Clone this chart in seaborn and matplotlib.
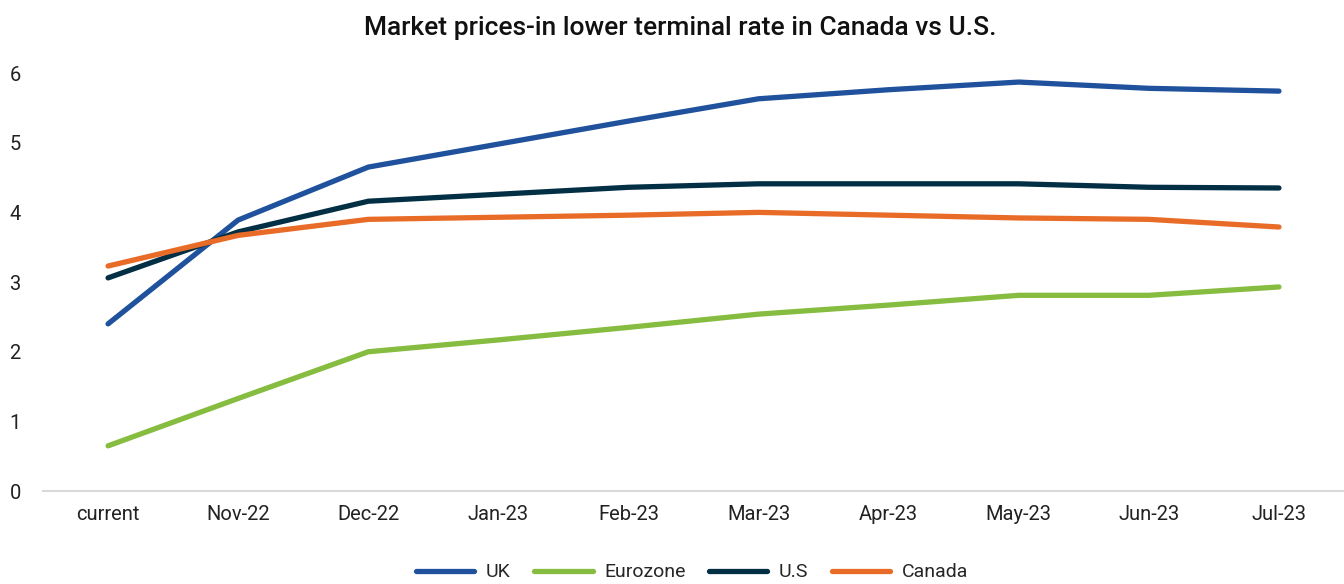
import matplotlib
matplotlib.use("Agg")

import pandas as pd
import matplotlib.pyplot as plt
import seaborn as sns

# datos
meses = ["current", "Nov-22", "Dec-22", "Jan-23", "Feb-23", "Mar-23",
         "Apr-23", "May-23", "Jun-23", "Jul-23"]
uk = [2.40, 3.89, 4.65, 4.98, 5.31, 5.63, 5.76, 5.87, 5.78, 5.74]
eurozone = [0.65, 1.33, 2.00, 2.17, 2.35, 2.54, 2.67, 2.81, 2.81, 2.93]
us = [3.06, 3.72, 4.16, 4.26, 4.36, 4.41, 4.41, 4.41, 4.36, 4.35]
canada = [3.23, 3.67, 3.90, 3.93, 3.96, 4.00, 3.96, 3.92, 3.90, 3.79]

series = {"UK": uk, "Eurozone": eurozone, "U.S": us, "Canada": canada}
colores = {"UK": "#1f519c", "Eurozone": "#86bc3f", "U.S": "#032f44", "Canada": "#e86c27"}

filas = []
for nombre, valores in series.items():
    for i, v in enumerate(valores):
        filas.append({"pos": i, "mes": meses[i], "serie": nombre, "valor": v})
df = pd.DataFrame(filas)

sns.set_theme(style="white")
plt.rcParams["font.family"] = ["Roboto", "DejaVu Sans"]

fig = plt.figure(figsize=(13.44, 5.84), dpi=100)
ax = fig.add_axes([0.032, 0.159, 0.968, 0.716])

sns.lineplot(data=df, x="pos", y="valor", hue="serie", palette=colores,
             linewidth=3.8, ax=ax, legend=False, solid_capstyle="round")

ax.set_xlim(-0.5, len(meses) - 0.5)
ax.set_ylim(0, 6)
ax.set_xticks(range(len(meses)))
ax.set_xticklabels(meses)
ax.set_yticks(range(0, 7))
ax.tick_params(axis="both", length=0, labelsize=14.5, colors="#222222")
ax.tick_params(axis="x", pad=10)
ax.tick_params(axis="y", pad=16)
ax.set_xlabel("")
ax.set_ylabel("")

for lado in ["top", "left", "right"]:
    ax.spines[lado].set_visible(False)
ax.spines["bottom"].set_color("#d9d9d9")
ax.spines["bottom"].set_linewidth(1.5)

fig.text(0.506, 0.952, "Market prices-in lower terminal rate in Canada vs U.S.",
         ha="center", va="center", fontsize=19, fontweight="medium", color="#111111")

handles = [plt.Line2D([0], [0], color=colores[n], lw=3.8, solid_capstyle="round")
           for n in series]
fig.legend(handles, list(series.keys()), loc="center", bbox_to_anchor=(0.515, 0.02),
           ncol=4, frameon=False, fontsize=14, handlelength=3.0,
           columnspacing=1.2, handletextpad=0.6)

fig.savefig("out.png", dpi=100)
plt.close(fig)
